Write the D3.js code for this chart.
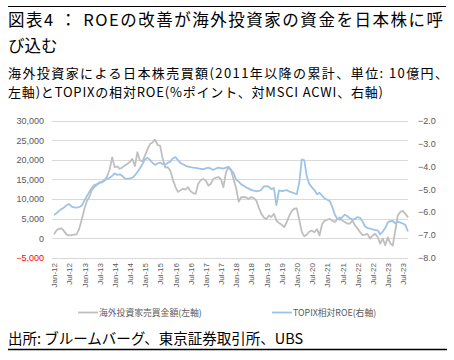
<!DOCTYPE html>
<html><head><meta charset="utf-8">
<script src="https://cdn.jsdelivr.net/npm/d3@7"></script>
<style>
html,body{margin:0;padding:0;background:#fff;}
svg{display:block;}
</style></head>
<body>
<svg id="chart" width="454" height="360"></svg>
<script>
// ---- data (monthly, Jan 2012 – Sep 2023) ----
const startMonth = "2012-01";
const flows = [1000,2000,2400,2500,1800,900,700,800,900,1000,2500,4800,7500,9500,10500,12300,13000,13600,14300,14200,14700,15800,17500,20600,18100,18300,17700,18000,18550,18900,19400,20200,18400,21900,19800,19600,21100,22700,24000,24400,25200,23700,23600,20300,18000,18100,17200,15000,13100,11800,12200,12600,12400,13000,12000,11500,11300,13800,14800,15100,14700,13400,13800,15100,15400,15600,15100,13000,16800,18100,17300,15000,12800,9300,10400,10500,10400,10000,10500,10200,9600,7800,6200,5300,4900,5800,5400,6200,4500,3900,3500,2800,4000,5600,6900,7500,7600,4600,1600,500,900,1700,1900,1500,2300,700,3600,4400,4700,4900,4500,4100,4800,5300,4500,4100,3700,3700,4500,3300,2500,1600,800,900,1100,-100,700,1100,300,-1400,-100,-1800,200,-1400,-1900,1900,5800,6700,7000,6200,5300];
const roe = [-6.13,-6.05,-5.95,-5.87,-5.80,-5.70,-5.65,-5.76,-5.80,-5.81,-5.78,-5.72,-5.50,-5.30,-5.12,-4.95,-4.82,-4.78,-4.74,-4.68,-4.60,-4.55,-4.50,-4.42,-4.31,-4.38,-4.35,-4.42,-4.53,-4.55,-4.53,-4.50,-4.40,-4.25,-4.09,-3.90,-3.70,-3.63,-3.72,-3.85,-3.94,-3.88,-3.84,-3.90,-3.94,-3.85,-3.80,-3.65,-3.60,-3.73,-3.85,-3.91,-3.97,-4.02,-4.04,-4.06,-4.07,-4.09,-4.11,-4.13,-4.09,-4.06,-4.10,-4.16,-4.10,-4.06,-4.08,-4.10,-4.06,-4.02,-4.15,-4.30,-4.58,-4.67,-4.78,-4.85,-4.92,-4.97,-5.03,-5.06,-5.10,-5.08,-5.03,-4.88,-4.87,-4.90,-5.00,-4.95,-5.70,-5.06,-5.08,-5.07,-5.04,-5.10,-5.14,-5.18,-5.22,-4.70,-3.70,-3.74,-4.45,-4.78,-4.92,-5.04,-5.22,-5.16,-5.28,-5.40,-5.46,-5.52,-5.75,-6.10,-6.28,-6.34,-6.22,-6.12,-6.18,-6.28,-6.33,-6.30,-6.22,-6.25,-6.40,-6.62,-6.70,-6.72,-6.76,-6.79,-6.80,-6.98,-6.85,-6.70,-6.45,-6.40,-6.39,-6.49,-6.42,-6.46,-6.50,-6.57,-6.85];
const leftTicks = [30000,25000,20000,15000,10000,5000,0,-5000];
const rightTicks = [-2,-3,-4,-5,-6,-7,-8];
const xTickLabels = ["Jan-12","Jul-12","Jan-13","Jul-13","Jan-14","Jul-14","Jan-15","Jul-15","Jan-16","Jul-16","Jan-17","Jul-17","Jan-18","Jul-18","Jan-19","Jul-19","Jan-20","Jul-20","Jan-21","Jul-21","Jan-22","Jul-22","Jan-23","Jul-23"];
const seriesNames = ["海外投資家売買金額(左軸)","TOPIX相対ROE(右軸)"];
const colors = ["#bfbfbf","#9dc3e6"];
const titleLines = ["図表4 ： ROEの改善が海外投資家の資金を日本株に呼","び込む"];
const subtitleLines = ["海外投資家による日本株売買額(2011年以降の累計、単位: 10億円、","左軸)とTOPIXの相対ROE(%ポイント、対MSCI ACWI、右軸)"];
const source = "出所: ブルームバーグ、東京証券取引所、UBS";

// ---- build ----
const parseM = d3.timeParse("%Y-%m");
const t0 = parseM(startMonth);
const dates = flows.map((_, i) => d3.timeMonth.offset(t0, i));
const parseTick = d3.timeParse("%b-%y");
const tickDates = xTickLabels.map(s => parseTick(s));

const svg = d3.select("#chart");
const cjk = "'Noto Sans CJK JP','Noto Sans',sans-serif";
const latin = "'Liberation Sans','DejaVu Sans',sans-serif";

const x = d3.scaleTime().domain([t0, dates[dates.length-1]]).range([54, 408]);
const yL = d3.scaleLinear().domain([-5000, 30000]).range([257.8, 120.5]);
const yR = d3.scaleLinear().domain([-8, -2]).range([257.8, 120.5]);

// frame lines
svg.append("line").attr("x1",8).attr("x2",446).attr("y1",6.5).attr("y2",6.5).attr("stroke","#000").attr("stroke-width",1);
svg.append("line").attr("x1",8).attr("x2",447).attr("y1",349.5).attr("y2",349.5).attr("stroke","#000").attr("stroke-width",1.3);

// titles
const tY = [25.5, 51.5];
const tLen = [435, null];
titleLines.forEach((s,i)=>{
  const t = svg.append("text").attr("x",8).attr("y",tY[i]).attr("font-family",cjk).attr("font-size",16.5).attr("fill","#000").text(s);
  if (tLen[i]) t.attr("textLength",tLen[i]).attr("lengthAdjust","spacing");
});
const sY = [78, 96.5];
const sLen = [440, 375];
subtitleLines.forEach((s,i)=>{
  svg.append("text").attr("x",8).attr("y",sY[i]).attr("font-family",cjk).attr("font-size",13).attr("fill","#000")
    .attr("textLength",sLen[i]).attr("lengthAdjust","spacing").text(s);
});
svg.append("text").attr("x",8).attr("y",344).attr("font-family",cjk).attr("font-size",14.5).attr("fill","#000").text(source);

// gridlines
const g = svg.append("g");
g.selectAll("line.grid").data(leftTicks).join("line")
  .attr("x1",52).attr("x2",408)
  .attr("y1",d=>Math.round(yL(d))+0.5).attr("y2",d=>Math.round(yL(d))+0.5)
  .attr("stroke","#d9d9d9").attr("stroke-width",1);

// left axis
const axL = d3.axisLeft(yL).tickValues(leftTicks).tickSize(0).tickPadding(0).tickFormat(d3.format(","));
const gL = svg.append("g").attr("transform","translate(44,0)").call(axL);
gL.select(".domain").remove();
gL.selectAll("text").attr("font-family",latin).attr("font-size",9)
  .attr("fill",d=>d<0?"#ff0000":"#595959");

// right axis
const axR = d3.axisRight(yR).tickValues(rightTicks).tickSize(0).tickPadding(0).tickFormat(d3.format(".1f"));
const gR = svg.append("g").attr("transform","translate(418,0)").call(axR);
gR.select(".domain").remove();
gR.selectAll("text").attr("font-family",latin).attr("font-size",9).attr("fill","#595959");

// bottom axis
const axB = d3.axisBottom(x).tickValues(tickDates).tickSize(0).tickPadding(0).tickFormat(d3.timeFormat("%b-%y"));
const gB = svg.append("g").attr("transform","translate(0,263)").call(axB);
gB.select(".domain").remove();
gB.selectAll("text").attr("font-family",latin).attr("font-size",8).attr("fill","#595959")
  .attr("transform","rotate(-90)").attr("text-anchor","end").attr("x",0).attr("y",0).attr("dy","0.35em")
  .attr("dx",0);

// lines
const lineL = d3.line().x((d,i)=>x(dates[i])).y(d=>yL(d)).curve(d3.curveLinear);
const lineR = d3.line().x((d,i)=>x(dates[i])).y(d=>yR(d)).curve(d3.curveLinear);
svg.append("path").datum(flows).attr("d",lineL).attr("fill","none").attr("stroke",colors[0]).attr("stroke-width",1.8).attr("stroke-linejoin","round");
svg.append("path").datum(roe).attr("d",lineR).attr("fill","none").attr("stroke",colors[1]).attr("stroke-width",1.8).attr("stroke-linejoin","round");

// legend
const legX = [78, 272];
seriesNames.forEach((s,i)=>{
  svg.append("line").attr("x1",legX[i]).attr("x2",legX[i]+20).attr("y1",312.5).attr("y2",312.5).attr("stroke",colors[i]).attr("stroke-width",1.8);
  svg.append("text").attr("x",legX[i]+21).attr("y",315.5).attr("font-family",cjk).attr("font-size",8.8).attr("fill","#595959").text(s);
});
</script>
</body></html>
